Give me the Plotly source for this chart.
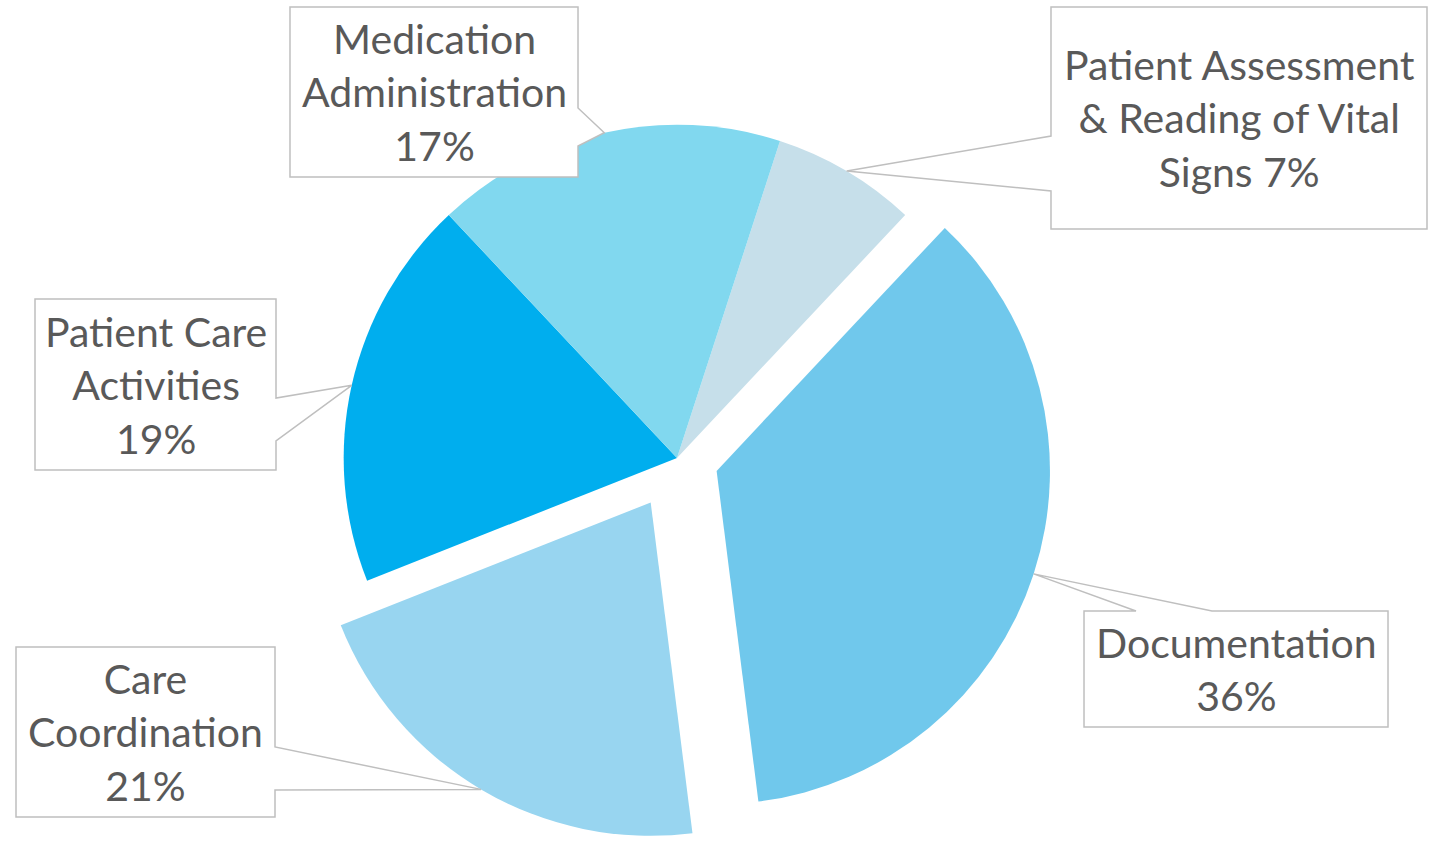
import math
import plotly.graph_objects as go

# ---- data ----
labels = ["Patient Assessment & Reading of Vital Signs", "Documentation",
          "Care Coordination", "Patient Care Activities", "Medication Administration"]
values = [7, 36, 21, 19, 17]
pulls = [0, 0.125, 0.155, 0, 0]
colors = ["#C6DFEA", "#70C8EC", "#98D5F0", "#00AEEE", "#81D8EF"]
callout_names = ["Patient Assessment<br>& Reading of Vital<br>Signs", "Documentation",
                 "Care<br>Coordination", "Patient Care<br>Activities", "Medication<br>Administration"]
pct_sep = [" ", "<br>", "<br>", "<br>", "<br>"]

# ---- layout constants (pixels) ----
W, H = 1447, 843
CX, CY = 677, 458
HALF = 385
ROTATION = 18
# callout boxes: x0, y0, x1, y1, side of pointer, base positions along that side
boxes = [
    (1051, 7, 1427, 229, "left", (136, 191)),
    (1084, 611, 1388, 727, "top", (1136, 1212)),
    (16, 647, 275, 817, "right", (747, 790)),
    (35, 299, 276, 470, "right", (398, 441)),
    (290, 7, 578, 177, "right", (108, 146)),
]

LINE = "#BFBFBF"
TEXT = "#595959"
FONT = "Lato"

fig = go.Figure(go.Pie(
    labels=labels, values=values, pull=pulls, sort=False,
    direction="clockwise", rotation=ROTATION,
    marker=dict(colors=colors, line=dict(width=0)),
    textinfo="none", hoverinfo="label+percent", showlegend=False,
    domain=dict(x=[(CX - HALF) / W, (CX + HALF) / W], y=[0, 2 * HALF / H]),
))

# pie geometry, same as plotly's own scaling
r = 2 * HALF / (2 + 2 * max(pulls))
total = sum(values)


def px(x, y):
    return x / W, 1 - y / H


shapes = []
annotations = []
cum = 0
for i, v in enumerate(values):
    mid = math.radians(ROTATION + 360 * (cum + v / 2) / total)
    cum += v
    dist = r * (1 + pulls[i])
    tx = CX + dist * math.sin(mid)
    ty = CY - dist * math.cos(mid)
    x0, y0, x1, y1, side, (b1, b2) = boxes[i]
    if side == "right":
        pts = [(x0, y0), (x1, y0), (x1, b1), (tx, ty), (x1, b2), (x1, y1), (x0, y1)]
    elif side == "left":
        pts = [(x0, y0), (x1, y0), (x1, y1), (x0, y1), (x0, b2), (tx, ty), (x0, b1)]
    else:  # top
        pts = [(x0, y0), (b1, y0), (tx, ty), (b2, y0), (x1, y0), (x1, y1), (x0, y1)]
    path = "M " + " L ".join("%.5f,%.5f" % px(a, b) for a, b in pts) + " Z"
    shapes.append(dict(type="path", path=path, xref="paper", yref="paper",
                       fillcolor="white", line=dict(color=LINE, width=1.5), layer="above"))
    pct = round(100 * v / total)
    ax, ay = px((x0 + x1) / 2, (y0 + y1) / 2)
    annotations.append(dict(
        x=ax, y=ay, xref="paper", yref="paper", xanchor="center", yanchor="middle",
        text=f"{callout_names[i]}{pct_sep[i]}{pct}%", showarrow=False, align="center",
        font=dict(family=FONT, size=41, color=TEXT)))

fig.update_layout(
    width=W, height=H, margin=dict(l=0, r=0, t=0, b=0),
    paper_bgcolor="white", plot_bgcolor="white",
    shapes=shapes, annotations=annotations,
)

fig.write_html("out.html", config={"displayModeBar": False},
               post_script="document.body.style.margin='0';document.body.style.overflow='hidden';")
